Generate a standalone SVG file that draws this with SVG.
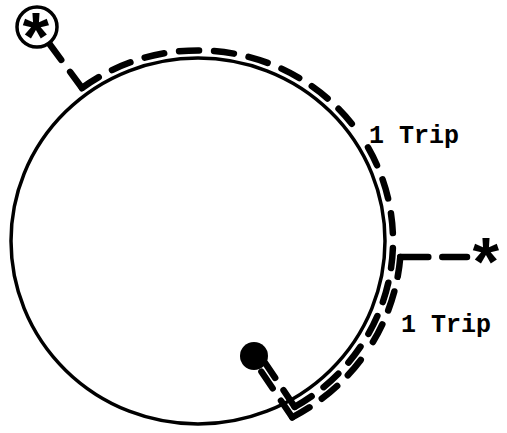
<svg xmlns="http://www.w3.org/2000/svg" width="507" height="433" viewBox="0 0 507 433">
<style>
.trip{fill:none;stroke:#000;stroke-width:6.5;stroke-linecap:round;stroke-dasharray:20 15}
.lbl{font-family:"Liberation Mono","Courier New",monospace;font-weight:bold;font-size:25px;fill:#000}
.ast{font-family:"Liberation Mono","Courier New",monospace;font-weight:bold;font-size:68px;fill:#000;text-anchor:middle}
</style>
<rect width="507" height="433" fill="#fff"/>
<g id="ring">
<ellipse cx="198" cy="241" rx="187" ry="183" fill="none" stroke="#000" stroke-width="3.5"/>
</g>
<g id="connectors">
<!-- Trip 1 -->
<path class="trip" d="M82,88 L48.3,42.3"/>
<path class="trip" d="M82,88 A195,191 0 0 1 356.7,130.1"/>
<path class="trip" d="M294.7,406.9 A195,191 0 0 0 365.5,143.2"/>
<path class="trip" d="M294.7,406.9 L265,362.7"/>
<!-- Trip 2 -->
<path class="trip" style="stroke-dasharray:28 14" d="M400.3,257 L467,257"/>
<path class="trip" d="M400.3,257 A203,199 0 0 1 367.3,350.8"/>
<path class="trip" d="M292.2,417.3 A203,199 0 0 0 367.3,350.8"/>
<path class="trip" d="M292.2,417.3 L258.4,367.2"/>
</g>
<g id="start-top">
<circle cx="37" cy="27" r="20" fill="#fff" stroke="#000" stroke-width="3.5"/>
<text class="ast" x="36" y="63">*</text>
</g>
<g id="start-right">
<text class="ast" x="486" y="288">*</text>
</g>
<g id="end-dot">
<circle cx="254" cy="356" r="14" fill="#000"/>
</g>
<g id="labels">
<text class="lbl" x="369" y="143">1 Trip</text>
<text class="lbl" x="401" y="332">1 Trip</text>
</g>
</svg>
